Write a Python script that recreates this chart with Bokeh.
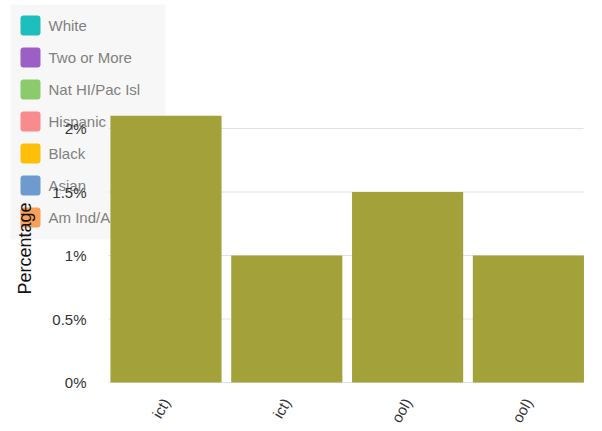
import math
from bokeh.plotting import figure
from bokeh.models import (ColumnDataSource, FixedTicker, CustomJSTickFormatter,
                          Range1d)
from bokeh.core.properties import value
from bokeh.embed import file_html
from bokeh.resources import INLINE

# data
positions = [1, 2, 3, 4]
tick_labels = ["ict)", "ict)", "ool)", "ool)"]
values = [2.1, 1.0, 1.5, 1.0]
bar_color = "#a3a23a"

legend_names = ["White", "Two or More", "Nat HI/Pac Isl", "Hispanic",
                "Black", "Asian", "Am Ind/Alaska Nat"]
legend_colors = ["#1cbfbe", "#9b5fc6", "#8bcb6c", "#f98a8e",
                 "#fdbf07", "#6d9bd0", "#f6a058"]
y_ticks = [0, 0.5, 1, 1.5, 2]
y_title = "Percentage"

FONT = "Liberation Sans"

W, H = 602, 431
xs = 120.8                 # px per category
ys = 127.0                 # px per percent
x0 = 1 - 165.5 / xs        # left edge of frame in data units
y0 = -(H - 382) / ys       # bottom edge of frame in data units


def X(px):
    return x0 + px / xs


def Y(py):
    return y0 + (H - py) / ys


p = figure(width=W, height=H,
           x_range=Range1d(x0, x0 + W / xs), y_range=Range1d(y0, y0 + H / ys),
           output_backend="svg", toolbar_location=None,
           min_border_left=0, min_border_right=0, min_border_top=0,
           min_border_bottom=0)
p.outline_line_color = None
p.background_fill_color = "white"
p.border_fill_color = "white"
p.xgrid.visible = False
p.ygrid.visible = False

# legend box (drawn beneath the bars, like the reference)
p.quad(left=[X(10)], right=[X(165)], top=[Y(4)], bottom=[Y(239)],
       fill_color="#f7f7f7", line_color=None, level="image")

n = len(legend_names)
leg_src = ColumnDataSource(dict(
    name=legend_names, color=legend_colors,
    left=[X(20)] * n, right=[X(40)] * n,
    top=[Y(15 + 32 * i) for i in range(n)],
    bottom=[Y(35 + 32 * i) for i in range(n)],
    tx=[X(48)] * n, ty=[Y(25 + 32 * i) for i in range(n)]))
p.quad(left="left", right="right", top="top", bottom="bottom",
       fill_color="color", line_color=None, border_radius=3,
       source=leg_src, level="image")
p.text(x="tx", y="ty", text="name", source=leg_src, level="underlay",
       text_font=value(FONT), text_font_size="15px", text_color="#808080",
       text_baseline="middle", text_align="left")

# gridlines
grid_src = ColumnDataSource(dict(y=y_ticks, x0=[X(108)] * len(y_ticks),
                                 x1=[X(583)] * len(y_ticks)))
p.segment(x0="x0", x1="x1", y0="y", y1="y", source=grid_src,
          line_color="#e2e2e2", line_width=1, level="underlay")

# bars
src = ColumnDataSource(dict(x=positions, top=values))
p.vbar(x="x", top="top", bottom=0, width=0.92, source=src,
       color=bar_color, line_color=None)

# y-axis title, centred on the plotting area
p.text(x=[X(24)], y=[Y(248)], text=[y_title], angle=math.pi / 2,
       text_font=value(FONT), text_font_size="18px", text_color="#111111",
       text_align="center", text_baseline="middle", level="overlay")

# axes
p.xaxis.fixed_location = 0
p.xaxis.ticker = FixedTicker(ticks=positions)
p.xaxis.major_label_overrides = {i: t for i, t in zip(positions, tick_labels)}
p.xaxis.major_label_orientation = 1.05
p.xaxis.major_label_text_font = FONT
p.xaxis.major_label_text_font_size = "15px"
p.xaxis.major_label_text_color = "#333333"
p.xaxis.major_label_standoff = 11
p.xaxis.axis_line_color = None
p.xaxis.major_tick_line_color = None
p.xaxis.minor_tick_line_color = None
p.xaxis.level = "overlay"

p.yaxis.fixed_location = X(108)
p.yaxis.ticker = FixedTicker(ticks=y_ticks)
p.yaxis.formatter = CustomJSTickFormatter(code="return tick + '%';")
p.yaxis.major_label_text_font = FONT
p.yaxis.major_label_text_font_size = "15px"
p.yaxis.major_label_text_color = "#333333"
p.yaxis.major_label_standoff = 16
p.yaxis.axis_line_color = None
p.yaxis.major_tick_line_color = None
p.yaxis.minor_tick_line_color = None
p.yaxis.level = "overlay"

open("out.html", "w").write(file_html(p, INLINE))
